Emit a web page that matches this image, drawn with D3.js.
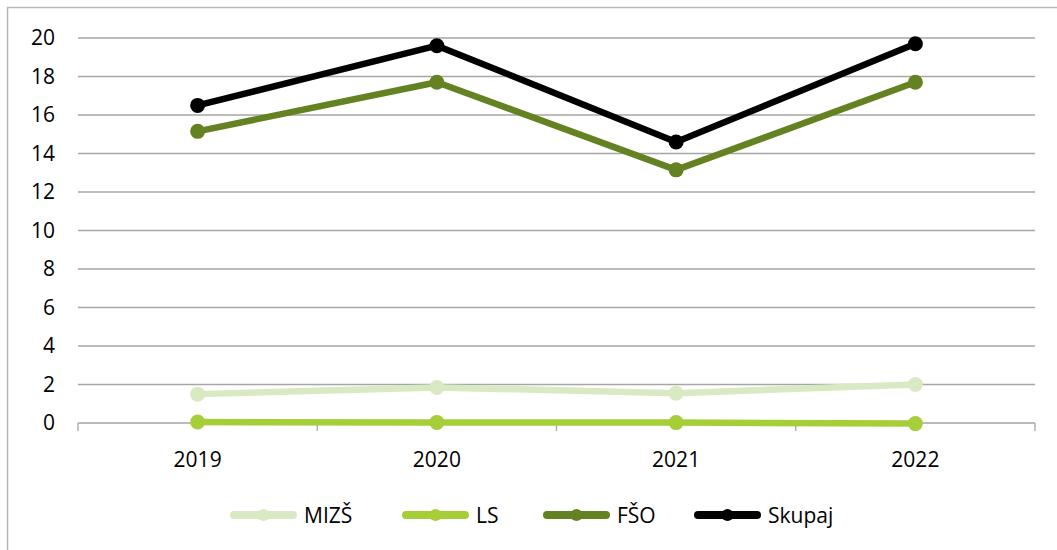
<html>

<head>
    <script src="https://cdn.jsdelivr.net/npm/d3@7/dist/d3.min.js" charset="utf-8"></script>
    <style>
        body { margin: 0; background: #fff; }
        text { font-family: "Open Sans", sans-serif; }
    </style>
</head>

<body>
    <script type="text/javascript">
        var width = 1057;
        var height = 550;

        // data
        const years = ["2019", "2020", "2021", "2022"];
        const seriesNames = ["MIZŠ", "LS", "FŠO", "Skupaj"];
        const mizs = [1.5, 1.85, 1.55, 2.0];
        const ls = [0.05, 0.03, 0.02, -0.03];
        const fso = [15.15, 17.7, 13.15, 17.7];
        const skupaj = [16.5, 19.6, 14.6, 19.7];
        const yTicks = [0, 2, 4, 6, 8, 10, 12, 14, 16, 18, 20];

        const colors = ["#d9e9c3", "#a6ce39", "#648222", "#000000"];

        var margin = { left: 78, right: 22, top: 38, bottom: 127 };

        const svg = d3.select("body").append("svg")
            .attr("width", width)
            .attr("height", height);

        // outer chart frame, runs off the right and bottom edges
        svg.append("rect")
            .attr("x", 7.5).attr("y", 7.5)
            .attr("width", width + 20).attr("height", height + 20)
            .attr("fill", "none")
            .attr("stroke", "#b7b7b7")
            .attr("stroke-width", 1.5);

        var xScale = d3.scaleBand(years, [margin.left, width - margin.right]);
        var yScale = d3.scaleLinear([0, 20], [height - margin.bottom, margin.top]);

        // gridlines
        svg.append("g")
            .attr("class", "grid")
            .selectAll("line")
            .data(yTicks)
            .join("line")
                .attr("x1", margin.left)
                .attr("x2", width - margin.right)
                .attr("y1", d => yScale(d))
                .attr("y2", d => yScale(d))
                .attr("stroke", "#a6a6a6")
                .attr("stroke-width", 1.3);

        // x axis with ticks between categories
        var xAxis = d3.axisBottom(xScale).tickSize(0).tickPadding(37).tickSizeOuter(0);
        var gx = svg.append("g")
            .attr("class", "x-axis")
            .attr("transform", `translate(0, ${yScale(0)})`)
            .call(xAxis);
        gx.select(".domain").remove();
        gx.selectAll("text")
            .attr("font-size", "21px")
            .attr("fill", "#000")
            .attr("dy", "0.35em")
            .attr("font-family", "Open Sans, sans-serif");

        var bounds = years.map(y => xScale(y)).concat([xScale.range()[1]]);
        svg.append("g")
            .selectAll("line")
            .data(bounds)
            .join("line")
                .attr("x1", d => d).attr("x2", d => d)
                .attr("y1", yScale(0)).attr("y2", yScale(0) + 8)
                .attr("stroke", "#a6a6a6")
                .attr("stroke-width", 1.3);

        // y axis labels only
        var yAxis = d3.axisLeft(yScale).tickValues(yTicks).tickSize(0).tickPadding(23);
        var gy = svg.append("g")
            .attr("class", "y-axis")
            .attr("transform", `translate(${margin.left}, 0)`)
            .call(yAxis);
        gy.select(".domain").remove();
        gy.selectAll("text")
            .attr("font-size", "21px")
            .attr("fill", "#000")
            .attr("font-family", "Open Sans, sans-serif");

        // series
        var allSeries = [mizs, ls, fso, skupaj].map((vals, i) => ({
            name: seriesNames[i],
            color: colors[i],
            values: vals.map((v, j) => ({ year: years[j], value: v }))
        }));

        var line = d3.line()
            .x(d => xScale(d.year) + xScale.bandwidth() / 2)
            .y(d => yScale(d.value));

        var groups = svg.append("g")
            .attr("class", "series")
            .selectAll("g")
            .data(allSeries)
            .join("g");

        groups.append("path")
            .attr("d", d => line(d.values))
            .attr("fill", "none")
            .attr("stroke", d => d.color)
            .attr("stroke-width", 6.5)
            .attr("stroke-linejoin", "round");

        groups.selectAll("circle")
            .data(d => d.values.map(v => Object.assign({ color: d.color }, v)))
            .join("circle")
                .attr("cx", d => xScale(d.year) + xScale.bandwidth() / 2)
                .attr("cy", d => yScale(d.value))
                .attr("r", 7.5)
                .attr("fill", d => d.color);

        // legend
        var legendX = [234, 406, 547, 698];
        var legendY = 515;
        var legend = svg.append("g")
            .attr("class", "legend")
            .selectAll("g")
            .data(allSeries)
            .join("g")
                .attr("transform", (d, i) => `translate(${legendX[i]}, ${legendY})`);

        legend.append("line")
            .attr("x1", 0).attr("x2", 59)
            .attr("y1", 0).attr("y2", 0)
            .attr("stroke", d => d.color)
            .attr("stroke-width", 8)
            .attr("stroke-linecap", "round");

        legend.append("circle")
            .attr("cx", 29.5).attr("cy", 0)
            .attr("r", 6)
            .attr("fill", d => d.color);

        legend.append("text")
            .attr("x", 70)
            .attr("y", 8)
            .attr("font-size", "21px")
            .attr("fill", "#000")
            .text(d => d.name);
    </script>
</body>

</html>
